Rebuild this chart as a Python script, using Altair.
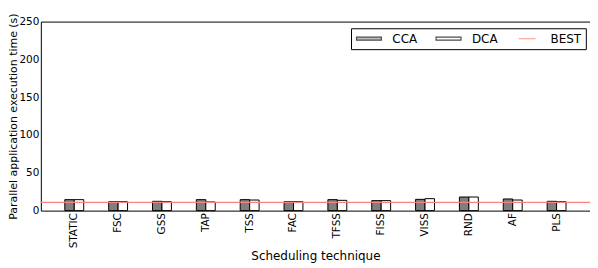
import altair as alt
import pandas as pd

# ---- data ----
categories = ["STATIC", "FSC", "GSS", "TAP", "TSS", "FAC", "TFSS", "FISS", "VISS", "RND", "AF", "PLS"]
cca_times = [14.5, 11.8, 12.3, 14.5, 14.5, 11.8, 14.5, 13.2, 14.9, 18.0, 15.4, 12.3]
dca_times = [14.5, 11.8, 11.8, 11.4, 14.0, 11.8, 13.6, 13.2, 15.8, 18.0, 14.0, 11.8]
best_time = [11.0]
legend_entries = ["CCA", "DCA", "BEST"]
y_tick_values = [0, 50, 100, 150, 200, 250]

cca_df = pd.DataFrame({"technique": categories, "time": cca_times})
dca_df = pd.DataFrame({"technique": categories, "time": dca_times})
best_df = pd.DataFrame({"time": best_time})
legend_df = pd.DataFrame({"series": legend_entries})

FONT = "DejaVu Sans"
W, H = 552, 190
BAR_W = 9.5

x_scale = alt.Scale(domain=categories, paddingInner=0.569, paddingOuter=0.547)
y_scale = alt.Scale(domain=[0, 250], nice=False)

x_axis = alt.Axis(title="Scheduling technique", labelAngle=270, labelPadding=2,
                  titlePadding=3, labelFontSize=10.5, titleFontSize=12)
y_axis = alt.Axis(title="Parallel application execution time (s)", values=y_tick_values,
                  labelPadding=2, titlePadding=0, labelFontSize=10.5, titleFontSize=11)

x_main = alt.X("technique:N", sort=categories, scale=x_scale, axis=x_axis)
y_main = alt.Y("time:Q", scale=y_scale, axis=y_axis)

cca_bars = alt.Chart(cca_df).mark_bar(
    fill="#7f7f7f", stroke="black", strokeWidth=1, width=BAR_W, xOffset=-BAR_W / 2
).encode(x=x_main, y=y_main)

dca_bars = alt.Chart(dca_df).mark_bar(
    fill="white", stroke="black", strokeWidth=1, width=BAR_W, xOffset=BAR_W / 2
).encode(x=x_main, y=y_main)

best_rule = alt.Chart(best_df).mark_rule(color="#ff7f7f", strokeWidth=1.3).encode(
    y=y_main
)

rect_path = "M-2.5,-0.3H2.5V0.3H-2.5Z"
line_path = "M-1.7,0H1.7"
legend = alt.Legend(
    title=None, orient="none", legendX=311.8, legendY=6.7, direction="horizontal",
    columns=3, columnPadding=16, symbolSize=100, symbolOffset=7.5, labelOffset=17.5,
    labelFont=FONT, labelFontSize=12, labelColor="black", padding=4.5,
    strokeColor="black", fillColor="white", symbolStrokeWidth=1.2,
)
legend_layer = alt.Chart(legend_df).mark_point(filled=True, strokeWidth=1.2).encode(
    x=alt.value(-1000), y=alt.value(-1000),
    shape=alt.Shape("series:N", scale=alt.Scale(domain=legend_entries, range=[rect_path, rect_path, line_path]), legend=legend),
    fill=alt.Fill("series:N", scale=alt.Scale(domain=legend_entries, range=["#7f7f7f", "#ffffff", "#ffffff"]), legend=legend),
    stroke=alt.Stroke("series:N", scale=alt.Scale(domain=legend_entries, range=["#000000", "#000000", "#ff7f7f"]), legend=legend),
)

chart = alt.layer(
    cca_bars, dca_bars, best_rule, legend_layer
).properties(
    width=W, height=H,
    autosize=alt.AutoSizeParams(type="none"),
    padding={"left": 33, "top": 13, "right": 0, "bottom": 52},
    background="white",
).configure_view(
    stroke="black", strokeWidth=1
).configure_axis(
    labelFont=FONT, titleFont=FONT, labelColor="black", titleColor="black",
    titleFontWeight="normal", grid=False, domain=False, ticks=False,
)

chart.save("out.html", embed_options={"renderer": "svg", "actions": False})
